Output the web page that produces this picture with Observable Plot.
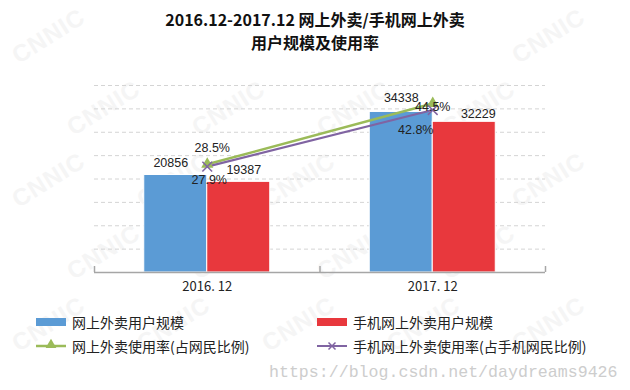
<!DOCTYPE html>
<html>
<head>
<meta charset="utf-8">
<script src="https://cdn.jsdelivr.net/npm/d3@7"></script>
<script src="https://cdn.jsdelivr.net/npm/@observablehq/plot@0.6"></script>
<style>
  html, body { margin: 0; padding: 0; background: #fff; }
  #wrap { position: relative; width: 630px; height: 390px; overflow: hidden; font-family: "Noto Sans CJK SC", sans-serif; }
  #wm { position: absolute; left: 0; top: 0; width: 630px; height: 390px; }
  #wm span { position: absolute; font: bold 24px "Liberation Sans", sans-serif; color: #f5f5f5; transform: rotate(-32deg); white-space: nowrap; letter-spacing: 1px; }
  #chart { position: absolute; left: 0; top: 0; }
  .title { position: absolute; left: 0; width: 630px; text-align: center; font-weight: bold; font-size: 16px; line-height: 18px; height: 18px; color: #111; }
  .leg { position: absolute; font-size: 14px; color: #222; line-height: 16px; white-space: nowrap; }
  .leg svg { position: absolute; left: 0; top: 0; }
  .leg span { position: absolute; top: 0; }
  #csdn { position: absolute; left: 269px; top: 363px; font: 16.6px "Liberation Mono", monospace; color: #cdcdcd; white-space: nowrap; }
</style>
</head>
<body>
<div id="wrap">
  <div id="wm"></div>
  <div id="chart"></div>
  <div class="title" style="top:10px">2016.12-2017.12 网上外卖/手机网上外卖</div>
  <div class="title" style="top:33px">用户规模及使用率</div>
  <div id="legend"></div>
  <div id="csdn">https://blog.csdn.net/daydreams9426</div>
</div>
<script>
// ---- data ----
const categories = ["2016. 12", "2017. 12"];
const users = [20856, 34338];          // 网上外卖用户规模 (万)
const mobileUsers = [19387, 32229];    // 手机网上外卖用户规模 (万)
const rate = [28.5, 44.5];             // 网上外卖使用率 (%)
const mobileRate = [27.9, 42.8];       // 手机网上外卖使用率 (%)
const gridTicks = [5000, 10000, 15000, 20000, 25000, 30000, 35000, 40000];
const seriesNames = ["网上外卖用户规模", "手机网上外卖用户规模", "网上外卖使用率(占网民比例)", "手机网上外卖使用率(占手机网民比例)"];
const colors = ["#5b9bd5", "#e8383d", "#9bbb59", "#8064a2"];

// ---- faint background watermark ----
const wm = document.getElementById("wm");
for (let r = 0; r < 5; r++) {
  for (let c = 0; c < 5; c++) {
    const left = 8 + c * 125 + (r % 2) * 55;
    const top = 22 + r * 72;
    if (left > 530) continue;
    if (r === 0 && left > 100 && left < 480) continue;
    const s = document.createElement("span");
    s.textContent = "CNNIC";
    s.style.left = left + "px";
    s.style.top = top + "px";
    wm.appendChild(s);
  }
}

// ---- chart ----
const rows = categories.map((c, i) => ({
  i, c, users: users[i], mobile: mobileUsers[i], rate: rate[i], mobileRate: mobileRate[i]
}));
const BW = 63 / 225.5;      // bar width in band units
const RATE_K = 812;         // secondary (rate) axis mapped onto the user axis
const cx = d => d.i + 0.5;
const txt = { fontFamily: "Liberation Sans", fontSize: 12.5, fill: "#222" };

const chart = Plot.plot({
  width: 630, height: 390,
  marginTop: 85, marginBottom: 118, marginLeft: 94, marginRight: 85,
  x: { domain: [0, 2], axis: null },
  y: { domain: [0, 40000], axis: null },
  style: { background: "transparent" },
  marks: [
    Plot.ruleY(gridTicks, { stroke: "#d4d4d4", strokeDasharray: "4,3" }),
    Plot.rectY(rows, { x1: d => cx(d) - BW, x2: cx, y1: 0, y2: "users", fill: colors[0], stroke: "white", strokeWidth: 1 }),
    Plot.rectY(rows, { x1: cx, x2: d => cx(d) + BW, y1: 0, y2: "mobile", fill: colors[1], stroke: "white", strokeWidth: 1 }),
    Plot.ruleY([0], { stroke: "#a6a6a6", strokeWidth: 1.5 }),
    Plot.ruleX([0, 1, 2], { stroke: "#a6a6a6", strokeWidth: 1.5, insetTop: 181 }),
    Plot.text(categories, { x: (d, i) => i + 0.5, frameAnchor: "bottom", dy: 18, text: d => d,
      fontFamily: "Noto Sans CJK SC", fontSize: 13, fill: "#222" }),
    Plot.line(rows, { x: cx, y: d => d.rate * RATE_K, stroke: colors[2], strokeWidth: 2.5 }),
    Plot.line(rows, { x: cx, y: d => d.mobileRate * RATE_K, stroke: colors[3], strokeWidth: 2.2 }),
    Plot.dot(rows, { x: cx, y: d => d.rate * RATE_K, symbol: "triangle", fill: colors[2], r: 4.5 }),
    Plot.dot(rows, { x: cx, y: d => d.mobileRate * RATE_K, symbol: "times", stroke: colors[3], strokeWidth: 1.5, r: 4.5 }),
    // bar value labels
    Plot.text(rows, { filter: d => d.i === 0, x: d => cx(d) - BW / 2, y: "users", text: d => String(d.users), dx: -5, dy: -12, ...txt }),
    Plot.text(rows, { filter: d => d.i === 1, x: d => cx(d) - BW / 2, y: "users", text: d => String(d.users), dx: 0, dy: -14, ...txt }),
    Plot.text(rows, { filter: d => d.i === 0, x: d => cx(d) + BW / 2, y: "mobile", text: d => String(d.mobile), dx: 5, dy: -12, ...txt }),
    Plot.text(rows, { filter: d => d.i === 1, x: d => cx(d) + BW / 2, y: "mobile", text: d => String(d.mobile), dx: 14, dy: -8, ...txt }),
    // rate labels
    Plot.text(rows, { filter: d => d.i === 0, x: cx, y: d => d.rate * RATE_K, text: d => d.rate.toFixed(1) + "%", dx: 5, dy: -16, ...txt }),
    Plot.text(rows, { filter: d => d.i === 1, x: cx, y: d => d.rate * RATE_K, text: d => d.rate.toFixed(1) + "%", dx: 0, dy: 3, ...txt }),
    Plot.text(rows, { filter: d => d.i === 0, x: cx, y: d => d.mobileRate * RATE_K, text: d => d.mobileRate.toFixed(1) + "%", dx: 2, dy: 13, ...txt }),
    Plot.text(rows, { filter: d => d.i === 1, x: cx, y: d => d.mobileRate * RATE_K, text: d => d.mobileRate.toFixed(1) + "%", dx: -17, dy: 20, ...txt })
  ]
});
document.getElementById("chart").appendChild(chart);

// ---- legend ----
const legend = document.getElementById("legend");
const legPos = [[36, 314], [317, 314], [36, 338], [317, 338]];
seriesNames.forEach((name, k) => {
  const item = document.createElement("div");
  item.className = "leg";
  item.style.left = legPos[k][0] + "px";
  item.style.top = legPos[k][1] + "px";
  item.style.width = "300px";
  item.style.height = "16px";
  let sw;
  if (k < 2) {
    sw = `<svg width="30" height="16"><rect x="0" y="4" width="30" height="8" fill="${colors[k]}"/></svg>`;
  } else if (k === 2) {
    sw = `<svg width="30" height="16"><line x1="0" y1="8" x2="30" y2="8" stroke="${colors[k]}" stroke-width="2.5"/><path d="${d3.symbol(d3.symbolTriangle, 50)()}" transform="translate(15,7)" fill="${colors[k]}"/></svg>`;
  } else {
    sw = `<svg width="30" height="16"><line x1="0" y1="8" x2="30" y2="8" stroke="${colors[k]}" stroke-width="2"/><path d="M11.5,4.5L18.5,11.5M11.5,11.5L18.5,4.5" stroke="${colors[k]}" stroke-width="1.5"/></svg>`;
  }
  item.innerHTML = sw + `<span style="left:36px">${name}</span>`;
  legend.appendChild(item);
});
</script>
</body>
</html>
